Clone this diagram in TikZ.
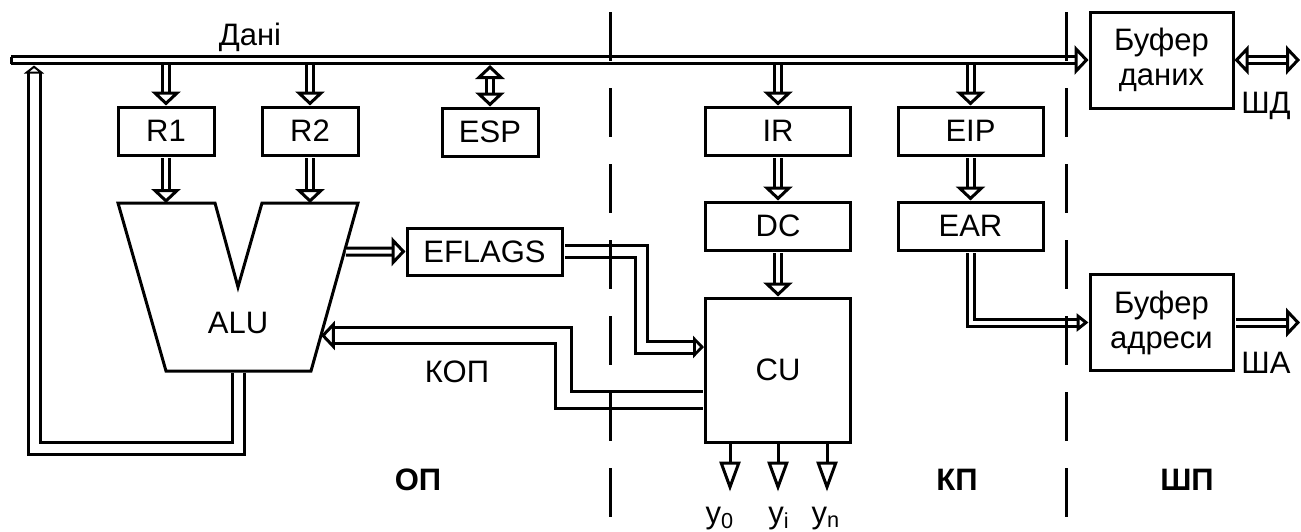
\documentclass[tikz,border=0pt]{standalone}
\usepackage{fontspec}
\setmainfont{Liberation Sans}
\usetikzlibrary{arrows.meta,calc}

\begin{document}
\begin{tikzpicture}[
  x=0.5pt,y=-0.5pt,
  line width=1.5pt,
  font=\fontsize{15.5}{17.5}\selectfont,
  reg/.style={draw, minimum width=48pt, minimum height=24pt, inner sep=0pt},
  wreg/.style={reg, minimum width=72.5pt},
  buf/.style={draw, align=center, minimum width=71.5pt, minimum height=48pt, inner sep=0pt},
  bus/.style={double, double distance=2pt},
  wbus/.style={double, double distance=4.5pt},
  kbus/.style={double, double distance=6.8pt},
  hd/.style={-{Triangle[open,length=7pt,width=14.5pt]}},
  hdhd/.style={{Triangle[open,length=7pt,width=14.5pt]}-{Triangle[open,length=7pt,width=14.5pt]}},
  outp/.style={-{Triangle[open,length=15pt,width=10.5pt]}},
  divider/.style={dash pattern=on 24.5pt off 13.5pt},
  zone/.style={font=\fontsize{15.5}{17.5}\selectfont\bfseries, anchor=base}
]
\useasboundingbox (0,0) rectangle (1301,531);

% registers and buffers
\node[reg] (r1) at (166,131) {R1};
\node[reg] (r2) at (310,131) {R2};
\node[reg] (esp) at (490,132) {ESP};
\node[wreg] (ir) at (778,131) {IR};
\node[wreg] (eip) at (970.5,131) {EIP};
\node[wreg] (dc) at (778,226) {DC};
\node[wreg] (ear) at (970.5,226) {EAR};
\node[reg, minimum width=77.5pt, minimum height=23.5pt] (eflags) at (484.5,251.5) {EFLAGS};
\node[reg, minimum width=72.5pt, minimum height=72pt] (cu) at (778,370) {CU};
\node[buf] (bufd) at (1161.5,60) {Буфер\\даних};
\node[buf] (bufa) at (1161.5,322.5) {Буфер\\адреси};

% ALU
\coordinate (a1) at (118,203);
\coordinate (a2) at (215,203);
\coordinate (a3) at (238,287);
\coordinate (a4) at (262,203);
\coordinate (a5) at (358,203);
\coordinate (a6) at (311,371);
\coordinate (a7) at (166,371);
\draw (a1) -- (a2) -- (a3) -- (a4) -- (a5) -- (a6) -- (a7) -- cycle;
\node[anchor=base] (alu) at (238,333) {ALU};
\coordinate (aluF) at ($(a5)!0.2887!(a6)$);
\coordinate (aluK) at ($(a5)!0.7887!(a6)$);

% data bus
\coordinate (busL) at (11,60);
\coordinate (busB) at (0,65);
\coordinate (fb) at (34,65.5);
\coordinate (shd) at (1300,60);
\foreach \n in {r1,r2,ir,eip}{\draw[bus,hd] (\n.north |- busL) -- (\n.north);}
\draw[bus,hdhd] (esp.north |- busB) -- (esp.north);
\draw[bus,hd] (busL) -- (bufd.west);
\draw ($(busL)+(0,-3.5)$) -- ($(busL)+(0,3.5)$);
\node[anchor=base] (dani) at (250,45) {Дані};
\draw[bus,hdhd] (bufd.east) -- (shd);
\node[anchor=base] (shdl) at (1266,113) {ШД};

% internal paths
\draw[bus,hd,shorten <=0.75pt] (r1.south) -- (r1.south |- a1);
\draw[bus,hd,shorten <=0.75pt] (r2.south) -- (r2.south |- a1);
\draw[bus,hd,shorten <=0.75pt] (ir) -- (dc);
\draw[bus,hd,shorten <=0.75pt] (dc) -- (cu);
\draw[bus,hd,shorten <=0.75pt] (eip) -- (ear);
\draw[bus,hd,shorten <=0.75pt] (aluF) -- (eflags.west);
\draw[wbus,-{Triangle[open,length=5.5pt,width=11pt]},shorten <=0.75pt] (eflags.east) -- ++(78,0) |- ($(cu.west)+(0,-23)$);
\draw[kbus,{Triangle[open,length=7pt,width=14.5pt]}-,shorten >=0.75pt] (aluK) -- (aluK -| eflags.east) |- ($(cu.west)+(0,30)$);
\node[anchor=base] (kop) at (457,382) {КОП};
\draw[wbus,-{Triangle[open,length=4pt,width=10pt]},shorten <=0.75pt] ($(a6)!.5!(a7)$) -- ++(0,77.5) -| (fb);

% address bus
\coordinate (sha) at (1300,322.5);
\draw[bus,-{Triangle[open,length=6pt,width=9pt]},shorten <=0.75pt] (ear) |- (bufa.west);
\draw[bus,hd,shorten <=0.75pt] (bufa.east) -- (sha);
\node[anchor=base] (shal) at (1266,373) {ША};

% control outputs
\foreach \dx in {-48,0,49}{\draw[outp] ($(cu.south)+(\dx,0)$) -- ++(0,48);}
\node[anchor=base] (y0) at (720,523) {y\textsubscript{0}};
\node[anchor=base] (yi) at (779,523) {y\textsubscript{i}};
\node[anchor=base] (yn) at (826,523) {y\textsubscript{n}};

% zones
\draw[divider] (610,12) -- (610,531);
\draw[divider] (1066,12) -- (1066,531);
\node[zone] (op) at (418,490) {ОП};
\node[zone] (kp) at (957,490) {КП};
\node[zone] (shp) at (1187,490) {ШП};
\end{tikzpicture}
\end{document}
